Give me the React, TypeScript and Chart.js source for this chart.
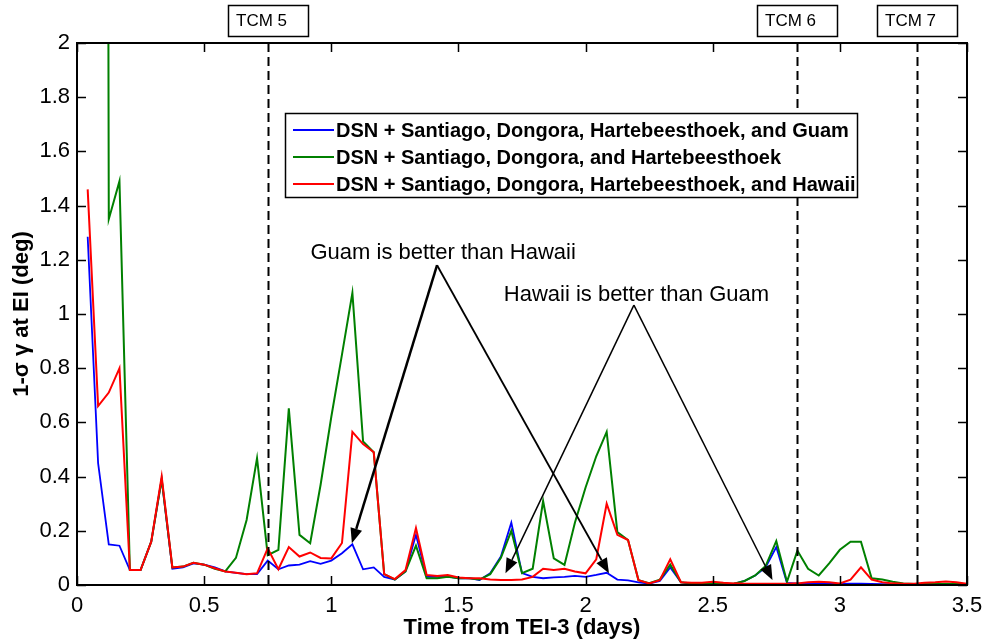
import React, { useEffect, useRef } from 'react';
import { Chart, registerables } from 'chart.js';

Chart.register(...registerables);

// Time axis: hourly samples (days from TEI-3)
const timeDays = [
  0.042, 0.083, 0.125, 0.167, 0.208, 0.25, 0.292, 0.333, 0.375, 0.417, 0.458, 0.5,
  0.542, 0.583, 0.625, 0.667, 0.708, 0.75, 0.792, 0.833, 0.875, 0.917, 0.958, 1.0,
  1.042, 1.083, 1.125, 1.167, 1.208, 1.25, 1.292, 1.333, 1.375, 1.417, 1.458, 1.5,
  1.542, 1.583, 1.625, 1.667, 1.708, 1.75, 1.792, 1.833, 1.875, 1.917, 1.958, 2.0,
  2.042, 2.083, 2.125, 2.167, 2.208, 2.25, 2.292, 2.333, 2.375, 2.417, 2.458, 2.5,
  2.542, 2.583, 2.625, 2.667, 2.708, 2.75, 2.792, 2.833, 2.875, 2.917, 2.958, 3.0,
  3.042, 3.083, 3.125, 3.167, 3.208, 3.25, 3.292, 3.333, 3.375, 3.417, 3.458, 3.5,
];

// DSN + Santiago, Dongora, Hartebeesthoek, and Guam (blue)
const guamSeries = [
  1.285, 0.45, 0.15, 0.145, 0.055, 0.055, 0.16, 0.39, 0.06, 0.065, 0.08, 0.075,
  0.065, 0.05, 0.045, 0.04, 0.04, 0.09, 0.058, 0.072, 0.075, 0.088, 0.078, 0.09,
  0.117, 0.15, 0.058, 0.065, 0.03, 0.02, 0.05, 0.185, 0.03, 0.03, 0.032, 0.025,
  0.025, 0.018, 0.043, 0.105, 0.23, 0.044, 0.03, 0.025, 0.028, 0.03, 0.034, 0.03,
  0.037, 0.045, 0.02, 0.017, 0.01, 0.005, 0.015, 0.065, 0.01, 0.004, 0.004, 0.005,
  0.004, 0.004, 0.015, 0.035, 0.065, 0.14, 0.008, 0.005, 0.005, 0.004, 0.004, 0.004,
  0.005, 0.005, 0.004, 0.003, 0.003, 0.003, 0.003, 0.003, 0.003, 0.003, 0.003, 0.003,
];

// DSN + Santiago, Dongora, and Hartebeesthoek (green); first samples are off-scale
const baseSeries = [
  null, 20, 1.35, 1.49, 0.055, 0.055, 0.16, 0.39, 0.065, 0.068, 0.082, 0.075,
  0.06, 0.05, 0.1, 0.24, 0.468, 0.11, 0.13, 0.652, 0.185, 0.154, 0.37, 0.62,
  0.85, 1.078, 0.53, 0.49, 0.04, 0.02, 0.05, 0.145, 0.025, 0.025, 0.03, 0.025,
  0.025, 0.02, 0.04, 0.1, 0.2, 0.044, 0.06, 0.31, 0.098, 0.074, 0.23, 0.36,
  0.475, 0.565, 0.195, 0.166, 0.018, 0.007, 0.02, 0.075, 0.01, 0.006, 0.006, 0.008,
  0.005, 0.005, 0.015, 0.035, 0.07, 0.162, 0.012, 0.127, 0.06, 0.035, 0.08, 0.13,
  0.16, 0.16, 0.025, 0.02, 0.012, 0.006, 0.004, 0.004, 0.004, 0.004, 0.004, 0.004,
];

// DSN + Santiago, Dongora, Hartebeesthoek, and Hawaii (red)
const hawaiiSeries = [
  1.46, 0.66, 0.71, 0.8, 0.055, 0.055, 0.16, 0.4, 0.065, 0.068, 0.082, 0.075,
  0.062, 0.05, 0.045, 0.04, 0.043, 0.135, 0.058, 0.14, 0.105, 0.12, 0.1, 0.098,
  0.155, 0.565, 0.52, 0.49, 0.04, 0.022, 0.055, 0.21, 0.037, 0.033, 0.037, 0.028,
  0.025, 0.025, 0.02, 0.018, 0.018, 0.02, 0.03, 0.06, 0.055, 0.06, 0.05, 0.043,
  0.095, 0.3, 0.185, 0.166, 0.018, 0.006, 0.018, 0.095, 0.01, 0.008, 0.008, 0.012,
  0.008, 0.006, 0.005, 0.005, 0.005, 0.005, 0.005, 0.006, 0.01, 0.012, 0.01, 0.006,
  0.02, 0.065, 0.02, 0.01, 0.006, 0.005, 0.005, 0.008, 0.01, 0.013, 0.01, 0.005,
];

const seriesLabels = [
  'DSN + Santiago, Dongora, Hartebeesthoek, and Guam',
  'DSN + Santiago, Dongora, and Hartebeesthoek',
  'DSN + Santiago, Dongora, Hartebeesthoek, and Hawaii',
];
const seriesColors = ['#0000ff', '#008000', '#ff0000'];

const xTickLabels = ['0', '0.5', '1', '1.5', '2', '2.5', '3', '3.5'];
const yTickLabels = ['0', '0.2', '0.4', '0.6', '0.8', '1', '1.2', '1.4', '1.6', '1.8', '2'];

const tcmTimes = [0.75, 2.83, 3.305];
const tcmLabels = ['TCM 5', 'TCM 6', 'TCM 7'];

const noteTexts = ['Guam is better than Hawaii', 'Hawaii is better than Guam'];
const noteAnchors = [
  { x: 1.44, y: 1.225 },
  { x: 2.2, y: 1.07 },
];
const arrowApexes = [
  { x: 1.416, y: 1.18 },
  { x: 2.19, y: 1.033 },
];
const arrowTips = [
  [{ x: 1.081, y: 0.154 }, { x: 2.092, y: 0.043 }],
  [{ x: 1.685, y: 0.043 }, { x: 2.735, y: 0.018 }],
];

const FONT = '"Liberation Sans", Arial, Helvetica, sans-serif';

function drawArrow(ctx: CanvasRenderingContext2D, x0: number, y0: number, x1: number, y1: number, lw: number) {
  const ang = Math.atan2(y1 - y0, x1 - x0);
  const len = 15;
  const hw = 6;
  const bx = x1 - len * Math.cos(ang);
  const by = y1 - len * Math.sin(ang);
  ctx.lineWidth = lw;
  ctx.beginPath();
  ctx.moveTo(x0, y0);
  ctx.lineTo(bx, by);
  ctx.stroke();
  ctx.beginPath();
  ctx.moveTo(x1, y1);
  ctx.lineTo(bx + hw * Math.sin(ang), by - hw * Math.cos(ang));
  ctx.lineTo(bx - hw * Math.sin(ang), by + hw * Math.cos(ang));
  ctx.closePath();
  ctx.fill();
}

const decorPlugin = {
  id: 'matlabDecor',
  afterDraw(chart: any) {
    const { ctx, chartArea: a, scales } = chart;
    const xs = scales.x;
    const ys = scales.y;
    ctx.save();
    ctx.strokeStyle = '#000';
    ctx.fillStyle = '#000';

    // TCM dashed lines
    ctx.lineWidth = 2;
    ctx.setLineDash([9, 5]);
    tcmTimes.forEach((t) => {
      const px = Math.round(xs.getPixelForValue(t)) + 0.5;
      ctx.beginPath();
      ctx.moveTo(px, a.top);
      ctx.lineTo(px, a.bottom);
      ctx.stroke();
    });
    ctx.setLineDash([]);

    // TCM boxes
    ctx.font = `17px ${FONT}`;
    ctx.textBaseline = 'middle';
    ctx.textAlign = 'left';
    tcmTimes.forEach((t, i) => {
      const px = xs.getPixelForValue(t);
      const w = 80;
      const h = 31;
      const bx = Math.round(px - w / 2);
      const by = 5;
      ctx.fillStyle = '#fff';
      ctx.fillRect(bx, by, w, h);
      ctx.lineWidth = 1.5;
      ctx.strokeRect(bx + 0.5, by + 0.5, w, h);
      ctx.fillStyle = '#000';
      ctx.fillText(tcmLabels[i], bx + 8, by + h / 2 + 1);
    });

    // Axes box
    ctx.lineWidth = 2;
    ctx.strokeRect(a.left, a.top, a.right - a.left, a.bottom - a.top);

    // Inward ticks on all sides
    const tl = 9;
    ctx.lineWidth = 1.5;
    xs.ticks.forEach((t: any) => {
      const px = Math.round(xs.getPixelForValue(t.value)) + 0.5;
      ctx.beginPath();
      ctx.moveTo(px, a.bottom);
      ctx.lineTo(px, a.bottom - tl);
      ctx.moveTo(px, a.top);
      ctx.lineTo(px, a.top + tl);
      ctx.stroke();
    });
    ys.ticks.forEach((t: any) => {
      const py = Math.round(ys.getPixelForValue(t.value)) + 0.5;
      ctx.beginPath();
      ctx.moveTo(a.left, py);
      ctx.lineTo(a.left + tl, py);
      ctx.moveTo(a.right, py);
      ctx.lineTo(a.right - tl, py);
      ctx.stroke();
    });

    // Legend
    const lx = 285;
    const ly = 113;
    const lw = 572;
    const lh = 84;
    ctx.fillStyle = '#fff';
    ctx.fillRect(lx, ly, lw, lh);
    ctx.lineWidth = 1.5;
    ctx.strokeStyle = '#000';
    ctx.strokeRect(lx + 0.5, ly + 0.5, lw, lh);
    ctx.font = `bold 20px ${FONT}`;
    ctx.textBaseline = 'middle';
    ctx.textAlign = 'left';
    seriesLabels.forEach((lab, i) => {
      const ry = ly + 17 + i * 27;
      ctx.strokeStyle = seriesColors[i];
      ctx.lineWidth = 2;
      ctx.beginPath();
      ctx.moveTo(lx + 8, ry);
      ctx.lineTo(lx + 49, ry);
      ctx.stroke();
      ctx.fillStyle = '#000';
      ctx.fillText(lab, lx + 51, ry + 1);
    });

    // Annotations
    ctx.strokeStyle = '#000';
    ctx.fillStyle = '#000';
    ctx.font = `22px ${FONT}`;
    ctx.textAlign = 'center';
    ctx.textBaseline = 'middle';
    noteTexts.forEach((txt, i) => {
      ctx.fillText(txt, xs.getPixelForValue(noteAnchors[i].x), ys.getPixelForValue(noteAnchors[i].y));
    });
    const widths = [[2.5, 1.8], [1.5, 1.5]];
    arrowApexes.forEach((ap, i) => {
      const ax = xs.getPixelForValue(ap.x);
      const ay = ys.getPixelForValue(ap.y);
      arrowTips[i].forEach((tp, j) => {
        drawArrow(ctx, ax, ay, xs.getPixelForValue(tp.x), ys.getPixelForValue(tp.y), widths[i][j]);
      });
    });

    ctx.restore();
  },
};

export default function App() {
  const canvasRef = useRef<HTMLCanvasElement | null>(null);

  useEffect(() => {
    const canvas = canvasRef.current;
    if (!canvas) return;
    const series = [guamSeries, baseSeries, hawaiiSeries];
    const orders = [2, 1, 0];
    const widthsLine = [1.8, 2, 2];
    const chart = new Chart(canvas, {
      type: 'line',
      data: {
        datasets: series.map((vals, i) => ({
          label: seriesLabels[i],
          data: timeDays.map((t, k) => ({ x: t, y: vals[k] })),
          borderColor: seriesColors[i],
          backgroundColor: seriesColors[i],
          borderWidth: widthsLine[i],
          pointRadius: 0,
          tension: 0,
          fill: false,
          spanGaps: false,
          order: orders[i],
        })),
      },
      options: {
        animation: false,
        responsive: false,
        maintainAspectRatio: false,
        layout: { padding: { top: 43, right: 21, left: 0, bottom: 0 } },
        plugins: {
          legend: { display: false },
          tooltip: { enabled: false },
          title: { display: false },
        },
        scales: {
          x: {
            type: 'linear',
            min: 0,
            max: 3.5,
            grid: { display: false, drawTicks: false },
            border: { display: false },
            ticks: {
              stepSize: 0.5,
              maxRotation: 0,
              autoSkip: false,
              padding: 8,
              color: '#000',
              font: { size: 22, family: FONT },
              callback: (_v: any, idx: number) => xTickLabels[idx],
            },
            title: {
              display: true,
              text: 'Time from TEI-3 (days)',
              color: '#000',
              font: { size: 22, weight: 'bold', family: FONT },
              padding: { top: 0, bottom: 2 },
            },
            afterFit: (s: any) => {
              s.height = 58;
              s.paddingLeft = 0;
              s.paddingRight = 0;
            },
          },
          y: {
            type: 'linear',
            min: 0,
            max: 2,
            grid: { display: false, drawTicks: false },
            border: { display: false },
            ticks: {
              stepSize: 0.2,
              autoSkip: false,
              padding: 7,
              color: '#000',
              font: { size: 22, family: FONT },
              callback: (_v: any, idx: number) => yTickLabels[idx],
            },
            title: {
              display: true,
              text: '1-σ γ at EI (deg)',
              color: '#000',
              font: { size: 22, weight: 'bold', family: FONT },
              padding: { top: 9, bottom: 0 },
            },
            afterFit: (s: any) => {
              s.width = 77;
              s.paddingTop = 0;
              s.paddingBottom = 0;
            },
          },
        },
      },
      plugins: [decorPlugin],
    });
    return () => chart.destroy();
  }, []);

  return (
    <div style={{ position: 'fixed', left: 0, top: 0, width: 988, height: 643, background: '#fff' }}>
      <canvas ref={canvasRef} width={988} height={643} style={{ width: 988, height: 643, display: 'block' }} />
    </div>
  );
}
